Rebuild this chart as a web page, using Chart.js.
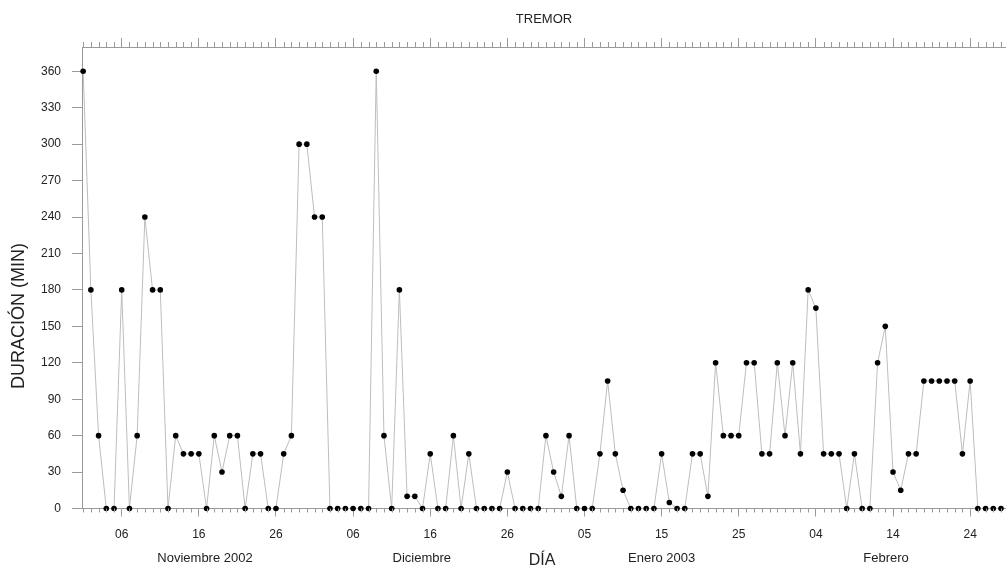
<!DOCTYPE html>
<html lang="es">
<head>
<meta charset="utf-8">
<title>TREMOR</title>
<script src="https://cdn.jsdelivr.net/npm/chart.js@4.4.1/dist/chart.umd.min.js"></script>
<style>
  html, body { margin: 0; padding: 0; background: #ffffff; }
  #wrap { width: 1006px; height: 570px; }
</style>
</head>
<body>
<div id="wrap"><canvas id="chart" width="1006" height="570"></canvas></div>
<script>
// Daily tremor duration (minutes), 1 Nov 2002 .. 28 Feb 2003 (day index 0..119)
const durations = [
  360, 180, 60, 0, 0, 180, 0, 60, 240, 180,
  180, 0, 60, 45, 45, 45, 0, 60, 30, 60,
  60, 0, 45, 45, 0, 0, 45, 60, 300, 300,
  240, 240, 0, 0, 0, 0, 0, 0, 360, 60,
  0, 180, 10, 10, 0, 45, 0, 0, 60, 0,
  45, 0, 0, 0, 0, 30, 0, 0, 0, 0,
  60, 30, 10, 60, 0, 0, 0, 45, 105, 45,
  15, 0, 0, 0, 0, 45, 5, 0, 0, 45,
  45, 10, 120, 60, 60, 60, 120, 120, 45, 45,
  120, 60, 120, 45, 180, 165, 45, 45, 45, 0,
  45, 0, 0, 120, 150, 30, 15, 45, 45, 105,
  105, 105, 105, 105, 45, 105, 0, 0, 0, 0
];

// Labelled days (every ten days) and their day index
const dayLabels = ['06', '16', '26', '06', '16', '26', '05', '15', '25', '04', '14', '24'];
const dayLabelIndex = [5, 15, 25, 35, 45, 55, 65, 75, 85, 95, 105, 115];

// Month captions and the day index each is centred on
const monthNames = ['Noviembre 2002', 'Diciembre', 'Enero 2003', 'Febrero'];
const monthCenters = [15.8, 43.9, 75.0, 104.1];

// Duration axis ticks
const yTicks = [0, 30, 60, 90, 120, 150, 180, 210, 240, 270, 300, 330, 360];

const chartTitle = 'TREMOR';
const yTitle = 'DURACIÓN (MIN)';
const xTitle = 'DÍA';

const FONT = '"Liberation Sans", Arial, Helvetica, sans-serif';
const TEXT = '#222222';
const AXIS = '#9a9a9a';
const X_MIN = -0.15, X_MAX = 119.65;

const points = durations.map((v, i) => ({ x: i, y: v }));

// Short daily tick marks on the top and bottom axes, plus the free-standing titles
const extrasPlugin = {
  id: 'extras',
  afterDraw(chart) {
    const { ctx, chartArea } = chart;
    const xs = chart.scales.x;
    ctx.save();
    ctx.strokeStyle = AXIS;
    ctx.lineWidth = 1;
    ctx.beginPath();
    for (let i = 0; i < durations.length; i++) {
      if (dayLabelIndex.includes(i)) continue;
      const px = Math.round(xs.getPixelForValue(i)) + 0.5;
      ctx.moveTo(px, chartArea.bottom);
      ctx.lineTo(px, chartArea.bottom + 4);
      ctx.moveTo(px, chartArea.top);
      ctx.lineTo(px, chartArea.top - 5);
    }
    ctx.stroke();

    ctx.fillStyle = TEXT;
    ctx.textAlign = 'center';
    ctx.textBaseline = 'middle';
    ctx.font = '16px ' + FONT;
    ctx.fillText(xTitle, (chartArea.left + chartArea.right) / 2 - 2, 561);

    ctx.translate(19, 316);
    ctx.rotate(-Math.PI / 2);
    ctx.font = '18px ' + FONT;
    ctx.fillText(yTitle, 0, 0);
    ctx.restore();
  }
};

new Chart(document.getElementById('chart'), {
  type: 'line',
  data: {
    datasets: [{
      data: points,
      borderColor: '#bdbdbd',
      borderWidth: 1,
      tension: 0,
      pointRadius: 2.8,
      pointBackgroundColor: '#000000',
      pointBorderWidth: 0,
      clip: false
    }]
  },
  options: {
    responsive: false,
    animation: false,
    layout: { padding: 0, autoPadding: false },
    plugins: {
      legend: { display: false },
      tooltip: { enabled: false },
      title: { display: false }
    },
    scales: {
      x: {
        type: 'linear',
        position: 'bottom',
        weight: 0,
        min: X_MIN,
        max: X_MAX,
        afterBuildTicks: s => { s.ticks = dayLabelIndex.map(v => ({ value: v })); },
        afterFit: s => { s.height = 33.5; },
        ticks: {
          autoSkip: false,
          maxRotation: 0,
          padding: 11,
          color: TEXT,
          font: { family: FONT, size: 12 },
          callback: (v, i) => dayLabels[i]
        },
        grid: { drawOnChartArea: false, tickLength: 8, color: AXIS },
        border: { color: AXIS }
      },
      xMonth: {
        type: 'linear',
        position: 'bottom',
        weight: 1,
        min: X_MIN,
        max: X_MAX,
        afterBuildTicks: s => { s.ticks = monthCenters.map(v => ({ value: v })); },
        afterFit: s => { s.height = 28; },
        ticks: {
          autoSkip: false,
          maxRotation: 0,
          padding: 9,
          color: TEXT,
          font: { family: FONT, size: 13 },
          callback: (v, i) => monthNames[i]
        },
        grid: { display: false, drawTicks: false },
        border: { display: false }
      },
      xTop: {
        type: 'linear',
        position: 'top',
        min: X_MIN,
        max: X_MAX,
        afterBuildTicks: s => { s.ticks = dayLabelIndex.map(v => ({ value: v })); },
        afterFit: s => { s.height = 47; },
        ticks: { display: false },
        grid: { drawOnChartArea: false, tickLength: 9, color: AXIS },
        border: { color: AXIS },
        title: {
          display: true,
          text: chartTitle,
          color: TEXT,
          font: { family: FONT, size: 13 },
          padding: { top: 12, bottom: 0 }
        }
      },
      y: {
        type: 'linear',
        position: 'left',
        min: 0,
        max: 380,
        afterBuildTicks: s => { s.ticks = yTicks.map(v => ({ value: v })); },
        afterFit: s => { s.width = 82; },
        ticks: {
          padding: 11,
          color: TEXT,
          font: { family: FONT, size: 12 },
          callback: v => String(v)
        },
        grid: { drawOnChartArea: false, tickLength: 10, color: AXIS },
        border: { color: AXIS }
      }
    }
  },
  plugins: [extrasPlugin]
});
</script>
</body>
</html>
